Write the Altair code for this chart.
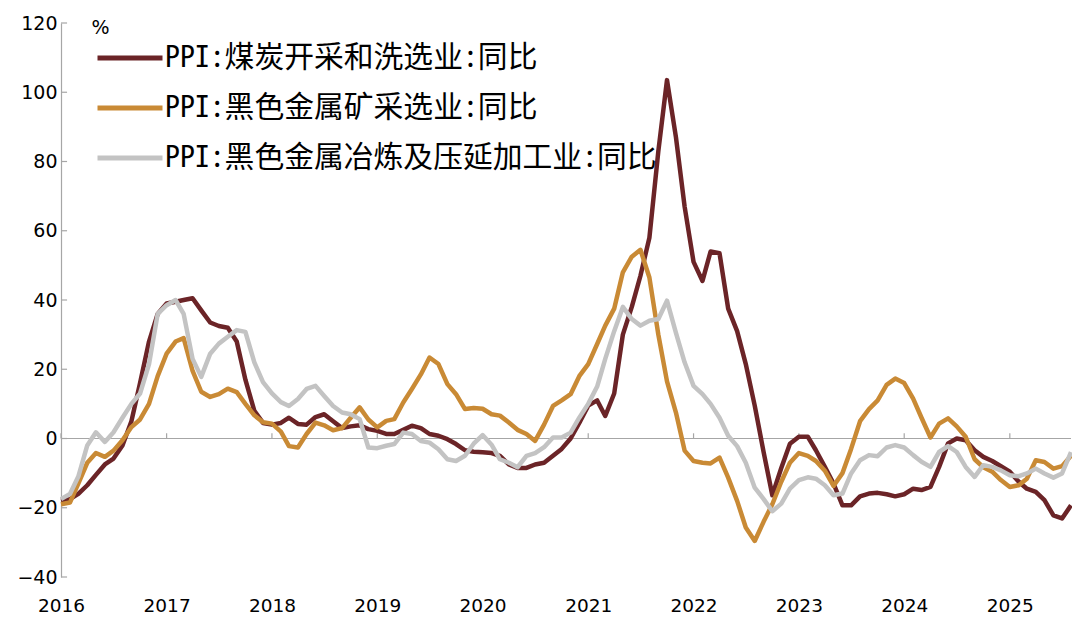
import altair as alt
import pandas as pd

# ---- data -------------------------------------------------------------
months = [d.strftime("%Y/%m/%d") for d in pd.date_range("2016-01-01", "2025-08-01", freq="MS")]

series_names = [
    "PPI:煤炭开采和洗选业:同比",
    "PPI:黑色金属矿采选业:同比",
    "PPI:黑色金属冶炼及压延加工业:同比",
]
colors = ["#6B2427", "#C98A35", "#C3C3C3"]

coal = [
    -18, -17.5, -16, -13.5, -10.5, -7.5, -5.8, -2, 5, 16, 28, 36,
    39, 39.5, 40, 40.5, 37, 33.5, 32.5, 32, 28, 17, 8, 4.5,
    4, 4.5, 6, 4.2, 4, 6.2, 7, 5, 3, 3.5, 3.8, 2.7,
    2.2, 1.3, 1.3, 2.5, 3.7, 3, 1.3, 0.8, -0.2, -1.6, -3.4, -3.8,
    -4, -4.2, -5, -7.5, -8.5, -8.5, -7.5, -7, -5, -3, 0, 4.5,
    9.5, 11, 6.5, 13, 30, 38, 47, 58, 83, 103.5, 87, 67,
    51, 45.5, 54, 53.5, 37.5, 31, 21.5, 9.5, -4, -16.4, -8.5, -1.5,
    0.5, 0.5, -3.4, -8.2, -13, -19.3, -19.3, -16.7, -15.9, -15.7, -16.1, -16.7,
    -16.1, -14.5, -14.9, -14, -8.2, -1.4, 0, -0.5, -3.4, -5.3, -6.5, -8,
    -9.6, -12.5, -14.5, -15.4, -17.8, -22.2, -23.1, -19.3,
]

ferrous_mining = [
    -19, -18.5, -13, -7, -4.2, -5.3, -3.5, -0.5, 3.3, 5.5, 10, 18,
    24.5, 28, 29, 19.5, 13.5, 12, 12.8, 14.4, 13.4, 10, 6.7, 4.7,
    4.3, 2, -2.2, -2.6, 1.3, 4.6, 3.8, 2.4, 3, 6, 9, 5.5,
    3.2, 5.1, 5.6, 10.4, 14.3, 18.5, 23.4, 21.5, 15.7, 12.8, 8.5, 8.8,
    8.6, 7, 6.6, 4.6, 2.5, 1.3, -0.7, 4, 9.4, 11, 12.8, 18,
    21.5, 27.3, 32.6, 37.5, 48, 52.5, 54.5, 46.5, 30, 16.5, 7.5, -3.5,
    -6.5, -7, -7.2, -5.5, -11.3, -18, -25.7, -29.6, -24, -19, -12.5, -7,
    -4.2, -5, -6.5, -9.3, -13.7, -10, -3, 5, 8.5, 11, 15.5, 17.3,
    16, 11.5, 6, 0.3, 4.3, 5.8, 3.5, 0.5, -6, -8.3, -9.6, -12,
    -14, -13.5, -11.6, -6.3, -6.8, -8.7, -8, -5,
]

ferrous_smelting = [
    -17.5, -16, -11, -2, 1.8, -1, 1.8, 6, 10, 13, 21.5, 36,
    38.5, 40, 36, 23, 17.8, 24.5, 27.4, 29.4, 31.3, 30.8, 22, 16.3,
    13, 10.5, 9.4, 11.4, 14.3, 15.2, 12.3, 9.4, 7.5, 7, 5.6, -2.6,
    -2.8, -2.1, -1.6, 1.7, 1.3, -0.7, -1.2, -3.1, -6, -6.5, -5, -1.5,
    1, -1.8, -6, -7, -8.3, -5, -4.2, -2.5, 0.3, 0.3, 1.7, 6,
    10, 15, 23, 31, 38, 34.5, 32.6, 34, 34.5, 39.8, 30.5, 22,
    15.2, 12.8, 10, 6, 0.8, -2.2, -7, -14.2, -17.5, -21, -18.8, -14.5,
    -12, -11.2, -11.6, -13.5, -16.4, -15.9, -10.1, -6.3, -4.8, -5.1, -2.6, -1.9,
    -2.6, -4.8, -6.7, -8.2, -3.9, -2.2, -3.9, -8.2, -11.1, -7.7, -8.2, -9.2,
    -10.6, -10.9, -10.1, -8.7, -10.1, -11.3, -10.1, -3.9,
]

year_labels = [str(y) for y in range(2016, 2026)]
y_tick_values = [-40, -20, 0, 20, 40, 60, 80, 100, 120]

# ---- tables -----------------------------------------------------------
rows = []
for name, vals in zip(series_names, [coal, ferrous_mining, ferrous_smelting]):
    for m, v in zip(months, vals):
        rows.append({"date": m, "value": v, "series": name})
df = pd.DataFrame(rows)

x_start = alt.DateTime(year=2016, month=1, date=1)
x_end = alt.DateTime(year=2025, month=8, date=1)
year_dt = [alt.DateTime(year=int(y), month=1, date=1) for y in year_labels]

xtick_df = pd.DataFrame({"date": [f"{y}/01/01" for y in year_labels], "value": 0, "v1": 1.5})
ytick_df = pd.DataFrame({"value": y_tick_values, "date": "2016/01/01", "d1": "2016/01/22"})
zero_df = pd.DataFrame({"date": ["2016/01/01"], "d1": ["2025/08/01"], "value": [0]})

GRAY = "#A6A6A6"

x_scale = alt.Scale(domain=[x_start, x_end], nice=False)
y_scale = alt.Scale(domain=[-40, 120], nice=False)
color_scale = alt.Scale(domain=series_names, range=colors)

x_axis = alt.Axis(
    values=year_dt, format="%Y", title=None, domain=False, ticks=False, grid=False,
    labelFont="DejaVu Sans", labelFontSize=18.5, labelColor="black", labelPadding=19,
    labelFlush=False,
)
y_axis = alt.Axis(
    values=y_tick_values, title="%", titleAngle=0, titleAlign="left", titleX=30, titleY=10,
    titleBaseline="alphabetic", titleFont="DejaVu Sans", titleFontSize=19,
    titleFontWeight="normal", titleColor="black",
    domain=True, domainColor=GRAY, domainWidth=1.2, ticks=False, grid=False,
    labelFont="DejaVu Sans", labelFontSize=19, labelColor="black", labelPadding=4,
)

legend = alt.Legend(
    orient="none", legendX=34, legendY=0, title=None,
    symbolType="stroke", symbolSize=4225, symbolStrokeWidth=5,
    labelFont="Noto Sans Mono CJK SC, Noto Sans CJK SC", labelFontSize=29.8, labelColor="black",
    labelLimit=800, rowPadding=-2, labelOffset=0, padding=0,
)

X = alt.X("date:T", scale=x_scale, axis=x_axis)
Y = alt.Y("value:Q", scale=y_scale, axis=y_axis)


def line_layer(idx):
    return alt.Chart(df).transform_filter(
        alt.datum.series == series_names[idx]
    ).mark_line(strokeWidth=4.5, strokeJoin="round").encode(
        x=X, y=Y,
        color=alt.Color("series:N", scale=color_scale, legend=legend),
    )


zero_line = alt.Chart(zero_df).mark_rule(color=GRAY, strokeWidth=1.2).encode(
    x=X, x2="d1:T", y=Y
)
x_ticks = alt.Chart(xtick_df).mark_rule(color=GRAY, strokeWidth=1.2).encode(
    x=X, y=Y, y2="v1:Q"
)
y_ticks = alt.Chart(ytick_df).mark_rule(color=GRAY, strokeWidth=1.2).encode(
    y=Y, x=X, x2="d1:T"
)

chart = alt.layer(
    zero_line, x_ticks, y_ticks,
    line_layer(0), line_layer(1), line_layer(2),
).properties(
    width=1010, height=554,
    autosize=alt.AutoSizeParams(type="none"),
    padding={"left": 53, "top": 15, "right": 1, "bottom": 40},
    background="white",
).configure_view(stroke=None)

chart.save("out.html", embed_options={"renderer": "svg", "actions": False})
